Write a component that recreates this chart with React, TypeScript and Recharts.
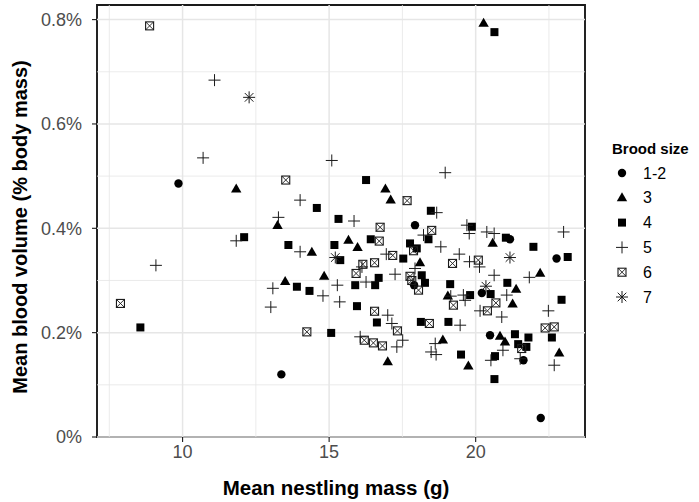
import React from 'react';
import {
  ScatterChart, Scatter, XAxis, YAxis, ReferenceLine, ReferenceArea, Label,
} from 'recharts';

// Mean nestling mass (g) vs mean blood volume (% body mass), by brood size
const brood12 = [
  { x: 9.86, y: 0.486 }, { x: 13.37, y: 0.12 }, { x: 17.93, y: 0.406 }, { x: 17.9, y: 0.291 },
  { x: 21.17, y: 0.379 }, { x: 22.76, y: 0.342 }, { x: 20.21, y: 0.276 }, { x: 20.49, y: 0.195 },
  { x: 21.63, y: 0.147 }, { x: 22.22, y: 0.0365 },
];
const brood3 = [
  { x: 11.83, y: 0.475 }, { x: 13.24, y: 0.405 }, { x: 13.5, y: 0.298 }, { x: 16.92, y: 0.475 },
  { x: 17.1, y: 0.454 }, { x: 15.66, y: 0.377 }, { x: 15.97, y: 0.363 }, { x: 14.41, y: 0.354 },
  { x: 14.83, y: 0.308 }, { x: 18.1, y: 0.334 }, { x: 17.0, y: 0.144 }, { x: 20.58, y: 0.371 },
  { x: 22.2, y: 0.3135 }, { x: 21.38, y: 0.283 }, { x: 19.05, y: 0.27 }, { x: 21.26, y: 0.2546 },
  { x: 18.88, y: 0.1855 }, { x: 19.75, y: 0.1357 }, { x: 20.83, y: 0.193 }, { x: 21.0, y: 0.182 },
  { x: 22.85, y: 0.161 }, { x: 20.27, y: 0.793 },
];
const brood4 = [
  { x: 8.56, y: 0.21 }, { x: 12.1, y: 0.383 }, { x: 13.61, y: 0.368 }, { x: 13.9, y: 0.288 },
  { x: 14.33, y: 0.28 }, { x: 14.58, y: 0.439 }, { x: 15.32, y: 0.418 }, { x: 16.26, y: 0.4925 },
  { x: 15.18, y: 0.368 }, { x: 15.38, y: 0.339 }, { x: 16.42, y: 0.379 }, { x: 17.53, y: 0.342 },
  { x: 17.76, y: 0.371 }, { x: 17.99, y: 0.3615 }, { x: 18.16, y: 0.31 }, { x: 16.69, y: 0.305 },
  { x: 15.89, y: 0.291 }, { x: 16.57, y: 0.291 }, { x: 18.27, y: 0.2955 }, { x: 18.47, y: 0.4336 },
  { x: 18.39, y: 0.379 }, { x: 15.95, y: 0.2508 }, { x: 16.63, y: 0.2195 }, { x: 18.13, y: 0.2206 },
  { x: 15.07, y: 0.1995 }, { x: 19.87, y: 0.403 }, { x: 21.03, y: 0.382 }, { x: 21.97, y: 0.3645 },
  { x: 23.14, y: 0.345 }, { x: 19.13, y: 0.293 }, { x: 21.08, y: 0.2955 }, { x: 20.51, y: 0.274 },
  { x: 19.81, y: 0.272 }, { x: 22.93, y: 0.263 }, { x: 19.07, y: 0.2206 }, { x: 19.5, y: 0.158 },
  { x: 21.34, y: 0.197 }, { x: 21.45, y: 0.178 }, { x: 21.8, y: 0.1907 }, { x: 21.73, y: 0.1727 },
  { x: 20.66, y: 0.155 }, { x: 20.64, y: 0.111 }, { x: 22.6, y: 0.1907 }, { x: 20.64, y: 0.776 },
];
const brood5 = [
  { x: 11.09, y: 0.684 }, { x: 10.7, y: 0.535 }, { x: 14.01, y: 0.454 }, { x: 13.27, y: 0.421 },
  { x: 11.83, y: 0.376 }, { x: 9.09, y: 0.329 }, { x: 13.08, y: 0.285 }, { x: 13.01, y: 0.249 },
  { x: 15.09, y: 0.53 }, { x: 15.85, y: 0.414 }, { x: 18.22, y: 0.387 }, { x: 14.01, y: 0.355 },
  { x: 16.95, y: 0.3505 }, { x: 17.93, y: 0.323 }, { x: 17.25, y: 0.312 }, { x: 15.28, y: 0.291 },
  { x: 14.79, y: 0.2706 }, { x: 15.36, y: 0.259 }, { x: 17.0, y: 0.2335 }, { x: 17.14, y: 0.2176 },
  { x: 16.06, y: 0.192 }, { x: 17.51, y: 0.1855 }, { x: 17.31, y: 0.1727 }, { x: 18.48, y: 0.163 },
  { x: 18.65, y: 0.158 }, { x: 18.96, y: 0.5066 }, { x: 18.67, y: 0.43 }, { x: 18.81, y: 0.3645 },
  { x: 19.7, y: 0.406 }, { x: 19.78, y: 0.39 }, { x: 20.38, y: 0.393 }, { x: 20.63, y: 0.39 },
  { x: 23.0, y: 0.393 }, { x: 19.44, y: 0.3505 }, { x: 19.79, y: 0.336 }, { x: 20.13, y: 0.326 },
  { x: 20.63, y: 0.31 }, { x: 21.83, y: 0.306 }, { x: 19.58, y: 0.272 }, { x: 21.06, y: 0.272 },
  { x: 19.64, y: 0.262 }, { x: 19.15, y: 0.27 }, { x: 20.15, y: 0.2418 }, { x: 20.89, y: 0.23 },
  { x: 22.48, y: 0.2418 }, { x: 19.47, y: 0.2143 }, { x: 18.62, y: 0.179 }, { x: 20.93, y: 0.1663 },
  { x: 20.52, y: 0.147 }, { x: 21.52, y: 0.15 }, { x: 22.68, y: 0.1376 }, { x: 16.12, y: 0.326 },
  { x: 16.26, y: 0.297 },
];
const brood6 = [
  { x: 8.875, y: 0.788 }, { x: 13.52, y: 0.4925 }, { x: 7.88, y: 0.256 }, { x: 17.66, y: 0.453 },
  { x: 16.74, y: 0.402 }, { x: 18.5, y: 0.396 }, { x: 16.71, y: 0.3755 }, { x: 16.15, y: 0.331 },
  { x: 16.55, y: 0.334 }, { x: 17.17, y: 0.348 }, { x: 17.88, y: 0.357 }, { x: 15.92, y: 0.3135 },
  { x: 17.76, y: 0.308 }, { x: 18.05, y: 0.2815 }, { x: 17.82, y: 0.3 }, { x: 16.55, y: 0.241 },
  { x: 17.33, y: 0.2034 }, { x: 18.42, y: 0.2176 }, { x: 14.24, y: 0.2015 }, { x: 16.2, y: 0.1855 },
  { x: 16.51, y: 0.1804 }, { x: 16.82, y: 0.1746 }, { x: 19.21, y: 0.3327 }, { x: 20.09, y: 0.339 },
  { x: 20.69, y: 0.257 }, { x: 19.24, y: 0.2527 }, { x: 20.4, y: 0.2418 }, { x: 22.37, y: 0.209 },
  { x: 22.68, y: 0.211 }, { x: 21.57, y: 0.1696 },
];
const brood7 = [
  { x: 12.27, y: 0.651 }, { x: 15.21, y: 0.344 }, { x: 21.17, y: 0.344 }, { x: 20.35, y: 0.289 },
];

const legendLabels = ['1-2', '3', '4', '5', '6', '7'];
const xTicks = [10, 15, 20];
const yTicks = [0, 0.2, 0.4, 0.6, 0.8];
const xMinor = [7.5, 12.5, 17.5, 22.5];
const yMinor = [0.1, 0.3, 0.5, 0.7];
const X_DOMAIN: [number, number] = [7.08, 23.73];
const Y_DOMAIN: [number, number] = [0, 0.828];

const FONT = "'Liberation Sans', Arial, Helvetica, sans-serif";
const INK = '#1a1a1a';
const GRID = '#e6e6e6';

type P = { cx?: number; cy?: number };

const DotShape = ({ cx = 0, cy = 0 }: P) => <circle cx={cx} cy={cy} r={4.2} fill="#000" />;
const TriShape = ({ cx = 0, cy = 0 }: P) => (
  <polygon points={`${cx},${cy - 5.6} ${cx - 5.2},${cy + 3.4} ${cx + 5.2},${cy + 3.4}`} fill="#000" />
);
const SqShape = ({ cx = 0, cy = 0 }: P) => <rect x={cx - 4} y={cy - 4} width={8} height={8} fill="#000" />;
const PlusShape = ({ cx = 0, cy = 0 }: P) => (
  <path d={`M${cx - 6},${cy}H${cx + 6}M${cx},${cy - 6}V${cy + 6}`} stroke={INK} strokeWidth={1} fill="none" />
);
const BoxXShape = ({ cx = 0, cy = 0 }: P) => (
  <g>
    <rect x={cx - 4} y={cy - 4} width={8} height={8} fill="#fff" fillOpacity={0} stroke={INK} strokeWidth={1.1} />
    <path d={`M${cx - 4},${cy - 4}L${cx + 4},${cy + 4}M${cx + 4},${cy - 4}L${cx - 4},${cy + 4}`} stroke={INK} strokeWidth={0.9} />
  </g>
);
const StarShape = ({ cx = 0, cy = 0 }: P) => (
  <path
    d={`M${cx - 6},${cy}H${cx + 6}M${cx},${cy - 6}V${cy + 6}M${cx - 4.3},${cy - 4.3}L${cx + 4.3},${cy + 4.3}M${cx + 4.3},${cy - 4.3}L${cx - 4.3},${cy + 4.3}`}
    stroke={INK}
    strokeWidth={1}
    fill="none"
  />
);

const shapes = [DotShape, TriShape, SqShape, PlusShape, BoxXShape, StarShape];
const series = [brood12, brood3, brood4, brood5, brood6, brood7];

const fmtPct = (v: number) => `${v}%`;

export default function App() {
  return (
    <div style={{ position: 'absolute', left: 0, top: 0, width: 699, height: 502, background: '#fff' }}>
      <ScatterChart width={699} height={502} margin={{ top: 5, right: 114, bottom: 0, left: 0 }}>
        <XAxis
          type="number"
          dataKey="x"
          domain={X_DOMAIN}
          allowDataOverflow
          ticks={xTicks}
          height={65}
          axisLine={false}
          tickLine={{ stroke: INK, strokeWidth: 1.1 }}
          tickSize={5}
          tickMargin={3}
          tick={{ fill: '#4d4d4d', fontSize: 18, fontFamily: FONT }}
        >
          <Label
            content={(p: any) => {
              const vb = p.viewBox || { x: 97, y: 437, width: 488, height: 65 };
              return (
                <text
                  x={vb.x + vb.width / 2 - 5}
                  y={vb.y + 58}
                  textAnchor="middle"
                  fontFamily={FONT}
                  fontWeight="bold"
                  fontSize={20.5}
                  fill="#000"
                >
                  Mean nestling mass (g)
                </text>
              );
            }}
          />
        </XAxis>
        <YAxis
          type="number"
          dataKey="y"
          domain={Y_DOMAIN}
          allowDataOverflow
          ticks={yTicks}
          width={97}
          axisLine={false}
          tickLine={{ stroke: INK, strokeWidth: 1.1 }}
          tickSize={5}
          tickMargin={10}
          tickFormatter={fmtPct}
          tick={{ fill: '#4d4d4d', fontSize: 18, fontFamily: FONT }}
        >
          <Label
            content={(p: any) => {
              const vb = p.viewBox || { x: 0, y: 5, width: 97, height: 432 };
              const cx = vb.x + 27;
              const cy = vb.y + vb.height / 2 + 6;
              return (
                <text
                  x={cx}
                  y={cy}
                  transform={`rotate(-90, ${cx}, ${cy})`}
                  textAnchor="middle"
                  fontFamily={FONT}
                  fontWeight="bold"
                  fontSize={20}
                  fill="#000"
                >
                  Mean blood volume (% body mass)
                </text>
              );
            }}
          />
        </YAxis>
        {xMinor.map((v) => (
          <ReferenceLine key={`xm${v}`} x={v} stroke={GRID} strokeWidth={0.8} />
        ))}
        {yMinor.map((v) => (
          <ReferenceLine key={`ym${v}`} y={v} stroke={GRID} strokeWidth={0.8} />
        ))}
        {xTicks.map((v) => (
          <ReferenceLine key={`xM${v}`} x={v} stroke={GRID} strokeWidth={1.5} />
        ))}
        {yTicks.map((v) => (
          <ReferenceLine key={`yM${v}`} y={v} stroke={GRID} strokeWidth={1.5} />
        ))}
        {series.map((d, i) => (
          <Scatter
            key={legendLabels[i]}
            name={legendLabels[i]}
            data={d}
            shape={shapes[i] as any}
            isAnimationActive={false}
          />
        ))}
        <ReferenceArea
          x1={X_DOMAIN[0]}
          x2={X_DOMAIN[1]}
          y1={Y_DOMAIN[0]}
          y2={Y_DOMAIN[1]}
          fill="none"
          fillOpacity={0}
          stroke={INK}
          strokeWidth={1.9}
        />
      </ScatterChart>
      <svg
        width={699}
        height={502}
        style={{ position: 'absolute', left: 0, top: 0, pointerEvents: 'none' }}
      >
        <text x={612} y={154} fontFamily={FONT} fontWeight="bold" fontSize={15} fill="#000">
          Brood size
        </text>
        {legendLabels.map((lab, i) => {
          const Shape = shapes[i];
          const cy = 173 + i * 24.8;
          return (
            <g key={lab}>
              <Shape cx={622} cy={cy} />
              <text x={643} y={cy + 5.5} fontFamily={FONT} fontSize={16} fill="#000">
                {lab}
              </text>
            </g>
          );
        })}
      </svg>
    </div>
  );
}
